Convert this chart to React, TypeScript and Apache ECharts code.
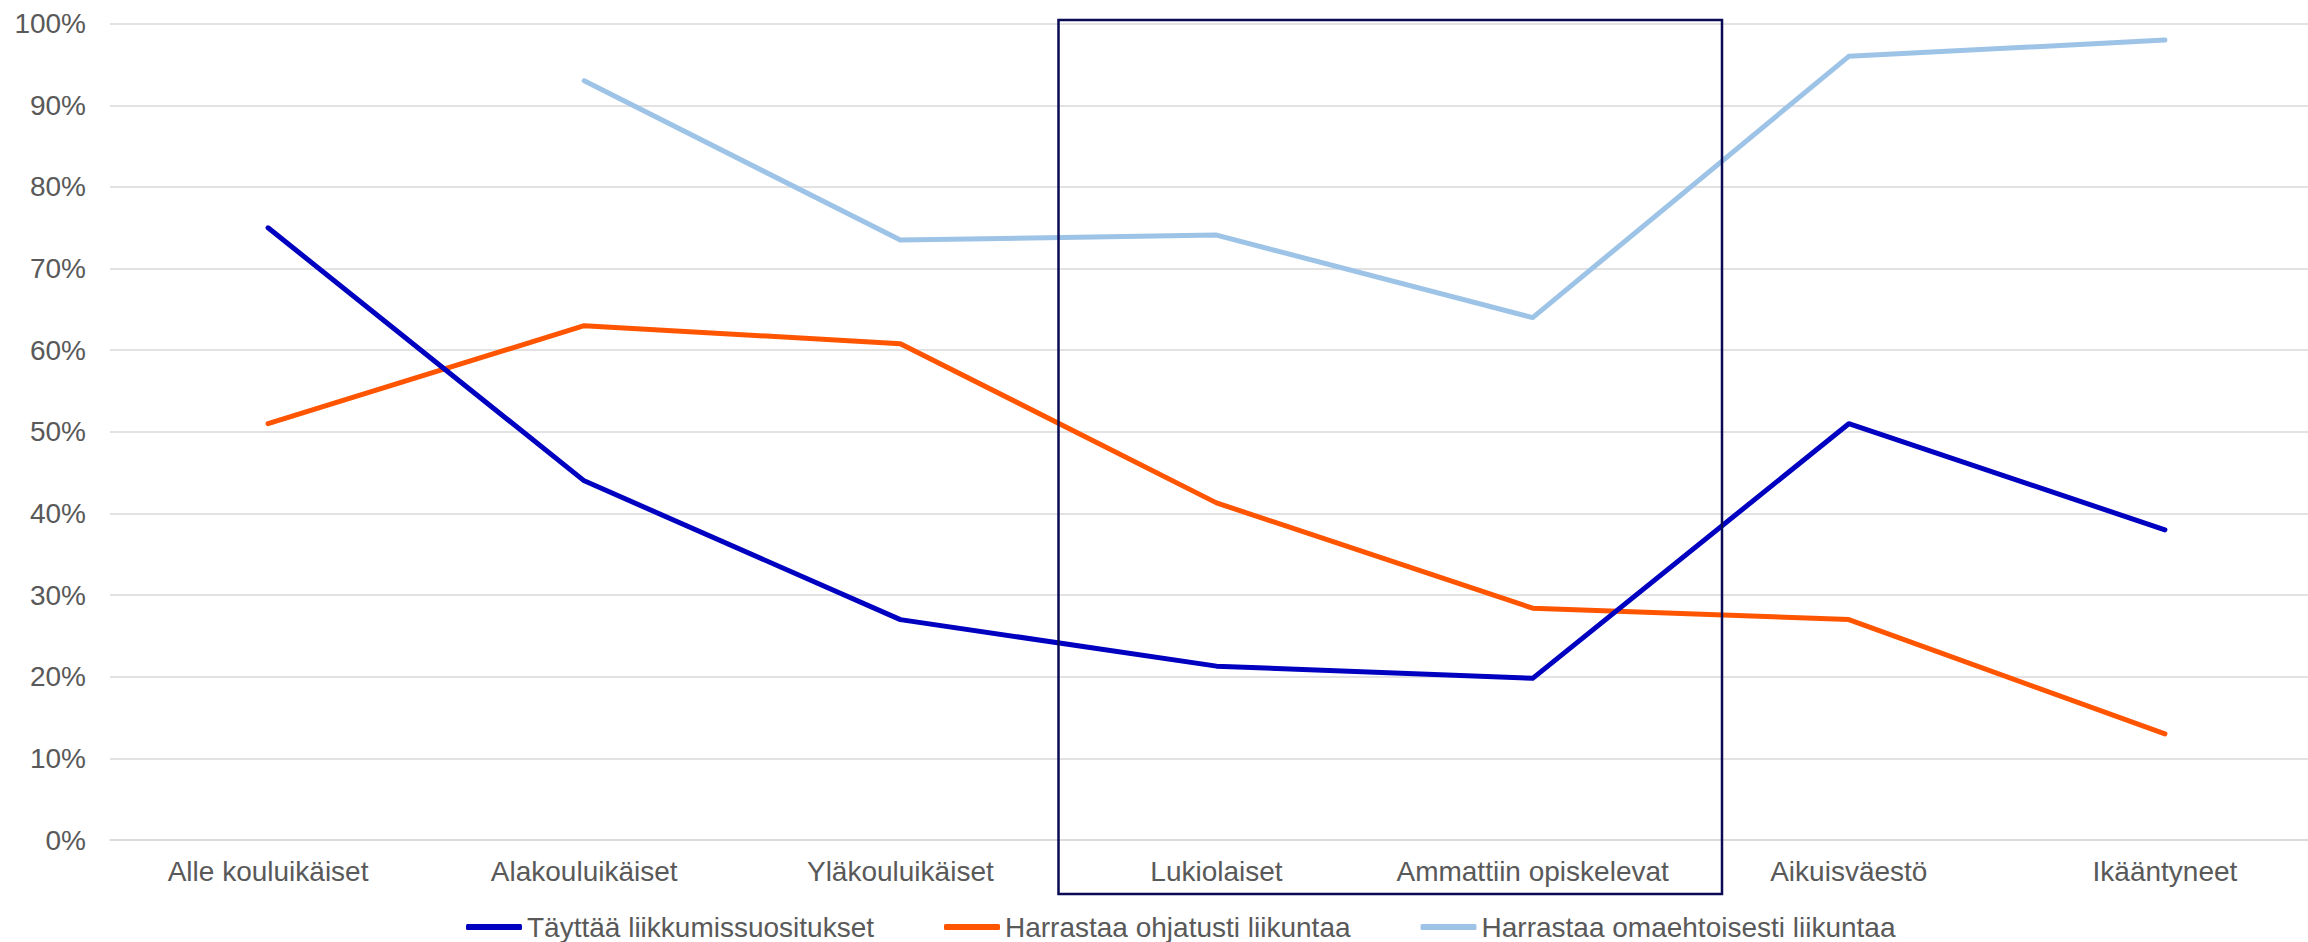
import React, { useEffect, useRef } from "react";
import * as echarts from "echarts";

const categories = [
  "Alle kouluikäiset",
  "Alakouluikäiset",
  "Yläkouluikäiset",
  "Lukiolaiset",
  "Ammattiin opiskelevat",
  "Aikuisväestö",
  "Ikääntyneet",
];
const seriesNames = [
  "Täyttää liikkumissuositukset",
  "Harrastaa ohjatusti liikuntaa",
  "Harrastaa omaehtoisesti liikuntaa",
];
const tayttaa = [75, 44, 27, 21.3, 19.8, 51, 38];
const ohjatusti = [51, 63, 60.8, 41.3, 28.4, 27, 13];
const omaehtoisesti = [null, 93, 73.5, 74.1, 64, 96, 98];
const colors = ["#0000C0", "#FF5500", "#9DC3E6"];

const FONT = "'Liberation Sans', Arial, sans-serif";
const TEXT = "#595959";

export default function App() {
  const ref = useRef<HTMLDivElement>(null);
  useEffect(() => {
    document.body.style.margin = "0";
    const chart = echarts.init(ref.current!, undefined, { renderer: "svg" });
    const lineSeries = (name: string, data: (number | null)[], color: string, z: number) => ({
      name,
      type: "line",
      data,
      symbol: "none",
      showSymbol: false,
      z,
      lineStyle: { color, width: 5, cap: "round", join: "round" },
      itemStyle: { color },
    });
    chart.setOption({
      animation: false,
      textStyle: { fontFamily: FONT },
      grid: { left: 110, right: 7, top: 23.7, bottom: 102, containLabel: false },
      legend: {
        left: 461,
        top: 908,
        icon: "roundRect",
        itemWidth: 56,
        itemHeight: 6,
        itemGap: 70,
        textStyle: { fontSize: 28, color: TEXT, fontFamily: FONT },
        data: seriesNames,
      },
      xAxis: {
        type: "category",
        data: categories,
        boundaryGap: true,
        axisTick: { show: false },
        axisLine: { show: true, lineStyle: { color: "#d9d9d9", width: 1.5 } },
        axisLabel: { interval: 0, fontSize: 28, color: TEXT, margin: 17, fontFamily: FONT },
      },
      yAxis: {
        type: "value",
        min: 0,
        max: 100,
        interval: 10,
        axisLine: { show: false },
        axisTick: { show: false },
        axisLabel: { formatter: "{value}%", fontSize: 28, color: TEXT, margin: 24, fontFamily: FONT },
        splitLine: { lineStyle: { color: "#d9d9d9", width: 1.5 } },
      },
      series: [
        lineSeries(seriesNames[0], tayttaa, colors[0], 4),
        lineSeries(seriesNames[1], ohjatusti, colors[1], 3),
        lineSeries(seriesNames[2], omaehtoisesti, colors[2], 2),
      ],
      graphic: [
        {
          type: "rect",
          z: 100,
          shape: { x: 1058.5, y: 20, width: 663.5, height: 874 },
          style: { fill: "none", stroke: "#0a0a55", lineWidth: 2.5 },
        },
      ],
    });
    return () => chart.dispose();
  }, []);
  return (
    <div style={{ width: 2308, height: 942, overflow: "hidden" }}>
      <div ref={ref} style={{ width: 2330, height: 942 }} />
    </div>
  );
}
